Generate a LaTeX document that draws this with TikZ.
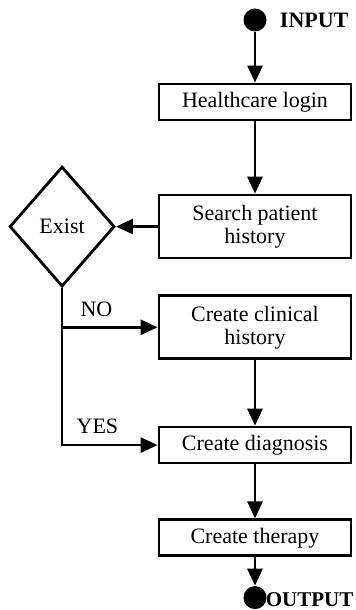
\documentclass[tikz,border=0pt]{standalone}
\usepackage{fontspec}
\setmainfont{Liberation Serif}
\usepackage{tikz}
\usetikzlibrary{arrows.meta,shapes.geometric}

\begin{document}
\begin{tikzpicture}[node distance = 2cm]
    \fontsize{11pt}{11.5pt}\selectfont  % 字体大小
    \tikzstyle{format}=[rectangle,draw,line width=1.4pt,fill=white,align=center,minimum width=96pt,minimum height=18pt,inner sep=2pt]  % 语句块
    \tikzstyle{format2}=[format,minimum height=31.5pt]  % 两行的语句块
    \tikzstyle{test}=[diamond,draw,line width=1.4pt,minimum width=52.5pt,minimum height=60pt,inner sep=0pt]  % 条件块
    \tikzstyle{term}=[circle,fill=black,minimum size=11.5pt,inner sep=0pt]  % 起点和终点
    \tikzstyle{arr}=[line width=1.4pt,-{Triangle[length=8.5pt,width=7.5pt]}]  % 转移线

    \useasboundingbox (-127.5pt,10pt) rectangle (50pt,-295pt);

    % 定义node
    \node[term](in){};
    \node[right of=in,node distance=10.4mm,font=\bfseries](inlbl){INPUT};
    \node[format,below of=in,node distance=14.4mm](login){Healthcare login};
    \node[format2,below of=login,node distance=21.9mm](search){Search patient\\history};
    \node[test,left of=search,node distance=33.9mm](exist){Exist};
    \node[format2,below of=search,node distance=17.7mm](clinical){Create clinical\\history};
    \node[format,below of=clinical,node distance=20.7mm](diagnosis){Create diagnosis};
    \node[format,below of=diagnosis,node distance=16.3mm](therapy){Create therapy};
    \node[term,below of=therapy,node distance=10.5mm](out){};
    \node[right of=out,node distance=9.6mm,yshift=-1pt,inner sep=0pt,font=\fontsize{10.5pt}{12pt}\bfseries](outlbl){OUTPUT};
    % 开始画线
    \draw[arr](in)--(login);
    \draw[arr](login)--(search);
    \draw[arr](search)--(exist);
    \draw[arr](exist.south)|-(clinical.west) node[pos=0.68,above=1pt](no){NO};
    \draw[arr](exist.south)|-(diagnosis.west) node[pos=0.685,above=1.5pt](yes){YES};
    \draw[arr](clinical)--(diagnosis);
    \draw[arr](diagnosis)--(therapy);
    \draw[arr](therapy)--(out);
\end{tikzpicture}
\end{document}
